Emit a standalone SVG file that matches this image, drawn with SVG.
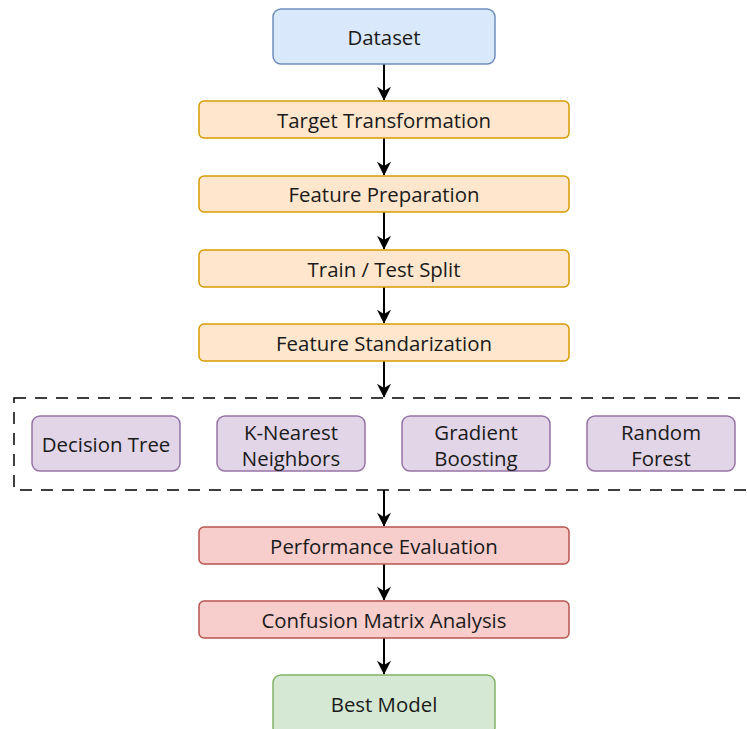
<svg xmlns="http://www.w3.org/2000/svg" width="747" height="729" viewBox="0 0 747 729">
<style>
text{font-family:"Open Sans","Noto Sans",sans-serif;font-size:20.4px;fill:#1a1a1a;text-anchor:middle;dominant-baseline:central}
.b{fill:#dae8fc;stroke:#6c8ebf;stroke-width:1.5}
.o{fill:#ffe6cc;stroke:#d79b00;stroke-width:1.5}
.p{fill:#e1d5e7;stroke:#9673a6;stroke-width:1.5}
.r{fill:#f8cecc;stroke:#b85450;stroke-width:1.5}
.g{fill:#d5e8d4;stroke:#82b366;stroke-width:1.5}
.c{stroke:#000;stroke-width:2;fill:none;marker-end:url(#ah)}
</style>
<defs>
<marker id="ah" viewBox="0 0 10 10" refX="9.5" refY="5" markerWidth="15" markerHeight="14" markerUnits="userSpaceOnUse" orient="auto">
<path d="M0,0 L10,5 L0,10 L3,5 Z" fill="#000"/>
</marker>
</defs>
<rect width="747" height="729" fill="#fff"/>
<g id="connectors">
<line class="c" x1="384" y1="64" x2="384" y2="100"/>
<line class="c" x1="384" y1="138" x2="384" y2="175"/>
<line class="c" x1="384" y1="212" x2="384" y2="249"/>
<line class="c" x1="384" y1="287" x2="384" y2="323"/>
<line class="c" x1="384" y1="361" x2="384" y2="397"/>
<line class="c" x1="384" y1="490" x2="384" y2="526"/>
<line class="c" x1="384" y1="564" x2="384" y2="600"/>
<line class="c" x1="384" y1="638" x2="384" y2="674"/>
</g>
<g id="models-group">
<rect x="14" y="398" width="740" height="92" fill="none" stroke="#000" stroke-width="1.5" stroke-dasharray="12,9"/>
</g>
<g id="dataset"><rect class="b" x="273" y="9" width="222" height="55" rx="8"/><text x="384" y="37">Dataset</text></g>
<g id="target"><rect class="o" x="199" y="101" width="370" height="37" rx="5"/><text x="384" y="120">Target Transformation</text></g>
<g id="featprep"><rect class="o" x="199" y="176" width="370" height="36" rx="5"/><text x="384" y="194">Feature Preparation</text></g>
<g id="split"><rect class="o" x="199" y="250" width="370" height="37" rx="5"/><text x="384" y="269">Train / Test Split</text></g>
<g id="standard"><rect class="o" x="199" y="324" width="370" height="37" rx="5"/><text x="384" y="343">Feature Standarization</text></g>
<g id="dt"><rect class="p" x="32" y="416" width="148" height="55" rx="8"/><text x="106" y="444">Decision Tree</text></g>
<g id="knn"><rect class="p" x="217" y="416" width="148" height="55" rx="8"/><text x="291" y="432">K-Nearest</text><text x="291" y="458">Neighbors</text></g>
<g id="gb"><rect class="p" x="402" y="416" width="148" height="55" rx="8"/><text x="476" y="432">Gradient</text><text x="476" y="458">Boosting</text></g>
<g id="rf"><rect class="p" x="587" y="416" width="148" height="55" rx="8"/><text x="661" y="432">Random</text><text x="661" y="458">Forest</text></g>
<g id="perf"><rect class="r" x="199" y="527" width="370" height="37" rx="5"/><text x="384" y="546">Performance Evaluation</text></g>
<g id="cm"><rect class="r" x="199" y="601" width="370" height="37" rx="5"/><text x="384" y="620">Confusion Matrix Analysis</text></g>
<g id="best"><rect class="g" x="273" y="675" width="222" height="60" rx="8"/><text x="384" y="704">Best Model</text></g>
</svg>
